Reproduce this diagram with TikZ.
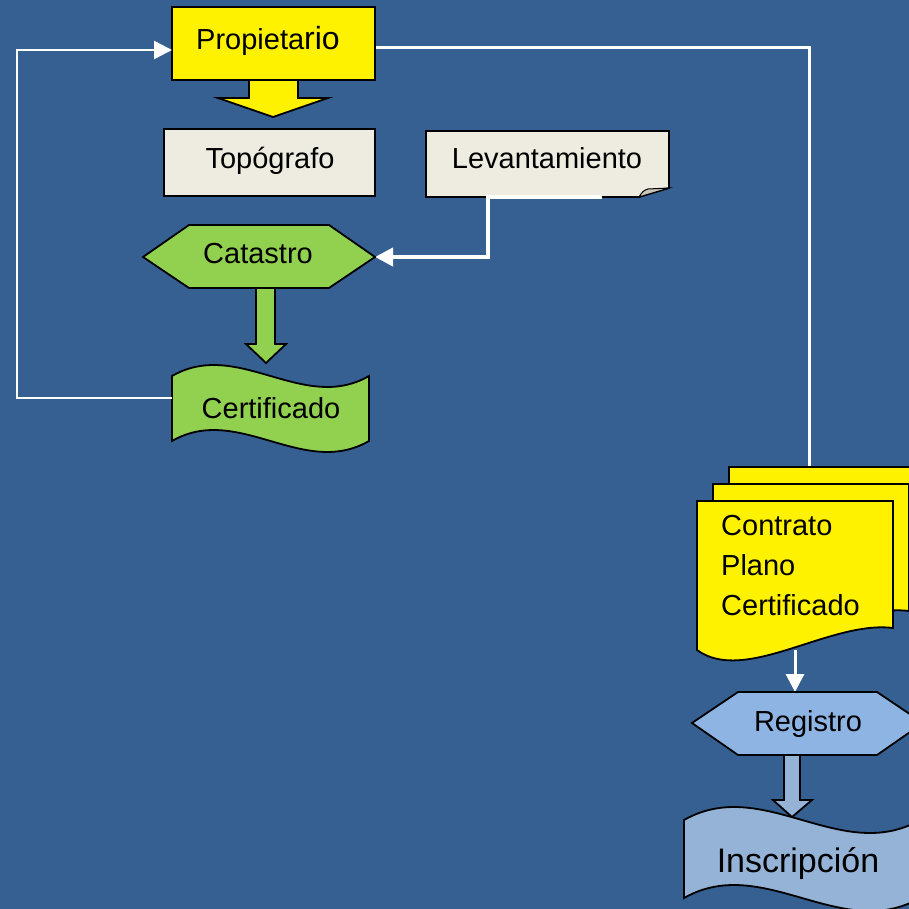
\documentclass[tikz,border=0pt]{standalone}
\usepackage{fontspec}
\setmainfont{Liberation Sans}
\usetikzlibrary{arrows.meta}
\definecolor{bg}{RGB}{54,95,146}
\definecolor{beige}{RGB}{238,236,225}
\definecolor{foldc}{RGB}{200,197,185}
\definecolor{grn}{RGB}{146,208,80}
\definecolor{regc}{RGB}{141,180,226}
\definecolor{insc}{RGB}{149,179,215}
\begin{document}
\begin{tikzpicture}[x=1pt,y=-1pt,
  shp/.style={draw=black,line width=1.8pt,line join=miter},
  lbl/.style={anchor=base,inner sep=0pt,font=\fontsize{29}{34}\selectfont},
  wire/.style={draw=white,line width=3pt},
  tipw/.style={-{Triangle[length=18pt,width=18pt]}}]
\useasboundingbox (0,0) rectangle (909,909);
\fill[bg] (0,0) rectangle (909,909);
\clip (0,0) rectangle (909,909);

% coordinates for connectors
\coordinate (propW) at (172,50);
\coordinate (propE) at (375,48);
\coordinate (loopL) at (17,50);
\coordinate (certW) at (172,398);
\coordinate (docTop) at (809,470);
\coordinate (levS) at (602,197);
\coordinate (levK) at (488,197);
\coordinate (catE) at (375,257);
\coordinate (docB) at (795,650);
\coordinate (regN) at (795,692);

% right connector (behind documents)
\draw[wire] (propE) -| (docTop);

% Propietario
\path[shp,fill=yellow] (249,78) -- (249,98) -- (218,98) -- (273,117) -- (328,98) -- (298,98) -- (298,78) -- cycle;
\path[shp,fill=yellow] (172,7) rectangle (375,80);
\node[lbl,anchor=base west] (prop) at (196,50) {Propieta{\fontsize{32}{36}\selectfont rio}};

% Topografo
\path[shp,fill=beige] (164,129) rectangle (375,196);
\node[lbl] (topo) at (270,169) {Topógrafo};

% Levantamiento
\path[shp,fill=beige] (426,131) -- (669,131) -- (669,188) -- (639,197) -- (426,197) -- cycle;
\path[shp,fill=foldc,line width=1pt] (639,197) .. controls (642,192) and (644,190) .. (648,189) -- (669,188) -- cycle;
\node[lbl] (lev) at (547,169) {Levantamiento};
\draw[wire,line width=4pt,tipw] (levS) -- (levK) |- (catE);

% Catastro
\path[shp,fill=grn] (143,257) -- (189,225) -- (329,225) -- (375,257) -- (329,288) -- (189,288) -- cycle;
\node[lbl] (cat) at (258,263) {Catastro};

% green arrow
\path[shp,fill=grn] (256,288) -- (256,344) -- (246,344) -- (266,363) -- (286,344) -- (275,344) -- (275,288) -- cycle;

% Certificado
\path[shp,fill=grn] (172,376) .. controls (238,338) and (303,414) .. (369,376) -- (369,441) .. controls (303,479) and (238,403) .. (172,441) -- cycle;
\node[lbl] (cert) at (271,418) {Certificado};

% loop connector
\draw[wire,line width=2.6pt,tipw] (certW) -| (loopL) -- (propW);

% multi-document
\foreach \dx/\dy in {32/-34,16/-17,0/0}{
  \path[shp,fill=yellow,shift={(\dx,\dy)}] (697,501) -- (893,501) -- (893,628) .. controls (830,620) and (745,685) .. (697,650) -- cycle;
}
\node[lbl,anchor=base west] (d1) at (721,535) {Contrato};
\node[lbl,anchor=base west] (d2) at (721,575) {Plano};
\node[lbl,anchor=base west] (d3) at (721,615) {Certificado};

\draw[wire,tipw] (docB) -- (regN);

% Registro
\path[shp,fill=regc] (692,723) -- (738,692) -- (877,692) -- (923,723) -- (877,755) -- (738,755) -- cycle;
\node[lbl] (reg) at (808,731) {Registro};

% Inscripcion
\path[shp,fill=insc] (684,820) .. controls (763,775) and (841,865) .. (920,820) -- (920,898) .. controls (841,943) and (763,853) .. (684,898) -- cycle;
\node[lbl,font=\fontsize{34}{40}\selectfont] (insc) at (798,872) {Inscripción};

% blue arrow
\path[shp,fill=insc] (784,755) -- (784,800) -- (773,800) -- (792,817) -- (812,800) -- (800,800) -- (800,755) -- cycle;
\end{tikzpicture}
\end{document}
